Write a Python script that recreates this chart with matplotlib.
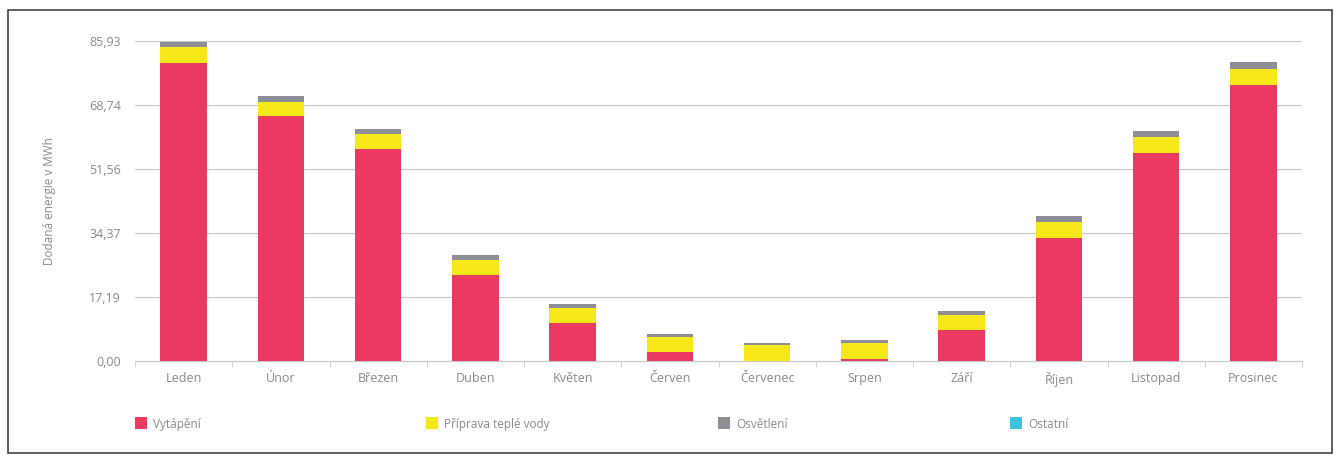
import matplotlib
matplotlib.use("Agg")
from matplotlib import pyplot as plt
from matplotlib.patches import Rectangle
import numpy as np

months = ["Leden", "Únor", "Březen", "Duben", "Květen", "Červen",
          "Červenec", "Srpen", "Září", "Říjen", "Listopad", "Prosinec"]
vytapeni = [79.9, 65.8, 56.9, 23.1, 10.1, 2.3, 0.1, 0.5, 8.2, 33.1, 55.9, 74.2]
tepla_voda = [4.3, 3.7, 4.1, 4.0, 4.1, 4.2, 4.3, 4.2, 4.2, 4.1, 4.2, 4.2]
osvetleni = [1.5, 1.7, 1.2, 1.3, 1.2, 0.7, 0.45, 1.0, 1.1, 1.7, 1.7, 1.8]
ostatni = [0, 0, 0, 0, 0, 0, 0, 0, 0, 0, 0, 0]
series_names = ["Vytápění", "Příprava teplé vody", "Osvětlení", "Ostatní"]
yticks = [0.00, 17.19, 34.37, 51.56, 68.74, 85.93]

colors = ["#EA3A62", "#F7E81A", "#8E8E96", "#3EC3DE"]
text_col = "#8a8a8a"

plt.rcParams["font.family"] = ["Open Sans", "DejaVu Sans"]

W, H = 1337, 459
fig = plt.figure(figsize=(W / 100, H / 100), dpi=100)

# axes placed in pixel coords: x 135..1302, y 41..361
left, right, top, bottom = 135, 1302, 41, 361
ax = fig.add_axes([left / W, 1 - bottom / H, (right - left) / W, (bottom - top) / H])

x = np.arange(len(months))
base = np.zeros(len(months))
for vals, c in zip([vytapeni, tepla_voda, osvetleni, ostatni], colors):
    ax.bar(x, vals, width=0.48, bottom=base, color=c, zorder=3)
    base = base + np.array(vals)

ax.set_xlim(-0.5, len(months) - 0.5)
ax.set_ylim(0, yticks[-1])
ax.set_yticks(yticks)
ax.set_yticklabels([f"{v:.2f}".replace(".", ",") for v in yticks])
ax.set_xticks(x)
ax.set_xticklabels(months)
ax.set_xticks(np.arange(-0.5, len(months)), minor=True)
ax.tick_params(axis="x", which="major", length=0, pad=8, labelcolor=text_col, labelsize=9)
ax.tick_params(axis="x", which="minor", length=4, color="#cccccc")
ax.tick_params(axis="y", length=0, pad=10, labelcolor=text_col, labelsize=9)
ax.grid(True, axis="y", color="#c8c8c8", linewidth=0.8, zorder=0)
for s in ["top", "right", "left"]:
    ax.spines[s].set_visible(False)
ax.spines["bottom"].set_color("#c8c8c8")
ax.set_ylabel("Dodaná energie v MWh", color=text_col, fontsize=8.5, labelpad=24)

# legend: square + label, evenly spaced and left aligned like the original
leg_x = [135, 426, 718, 1010]
leg_y = 423
for name, c, lx in zip(series_names, colors, leg_x):
    fig.patches.append(Rectangle((lx / W, 1 - (leg_y + 6) / H), 12 / W, 12 / H,
                                 transform=fig.transFigure, facecolor=c,
                                 edgecolor="none"))
    fig.text((lx + 18) / W, 1 - leg_y / H, name, color=text_col, fontsize=8.5,
             ha="left", va="center_baseline")

# scanned page border
fig.patches.append(Rectangle((8 / W, 1 - 453 / H), 1324 / W, 443 / H,
                             transform=fig.transFigure, fill=False,
                             edgecolor="#444444", linewidth=1.2))

fig.savefig("out.png", dpi=100, facecolor="white")
